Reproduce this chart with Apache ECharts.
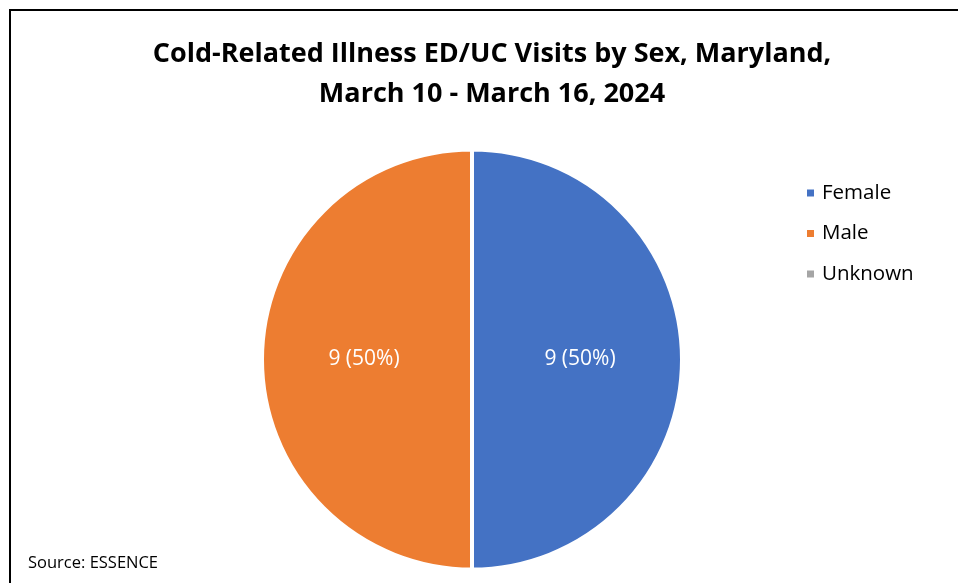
<!DOCTYPE html>
<html>
<head>
<meta charset="utf-8">
<script src="https://cdn.jsdelivr.net/npm/echarts@6/dist/echarts.min.js"></script>
<style>
html,body{margin:0;padding:0;background:#fff;}
#chart{width:958px;height:583px;}
</style>
</head>
<body>
<div id="chart"></div>
<script>
const categories = ["Female", "Male", "Unknown"];
const values = [9, 9, 0];
const colors = ["#4472C4", "#ED7D31", "#A5A5A5"];
const titleText = "Cold-Related Illness ED/UC Visits by Sex, Maryland,\nMarch 10 - March 16, 2024";
const sourceText = "Source: ESSENCE";

const total = values.reduce((a, b) => a + b, 0);
const chart = echarts.init(document.getElementById('chart'), null, {renderer: 'canvas'});
const FONT = '"Open Sans", sans-serif';

chart.setOption({
  animation: false,
  backgroundColor: '#fff',
  color: colors,
  title: {
    text: titleText,
    left: 487,
    top: 29,
    textAlign: 'center',
    textStyle: {
      fontFamily: FONT,
      fontWeight: 'bold',
      fontSize: 27,
      lineHeight: 40,
      color: '#000'
    }
  },
  legend: {
    orient: 'vertical',
    left: 800,
    top: 177.5,
    itemWidth: 9,
    itemHeight: 9,
    itemGap: 19.5,
    icon: 'rect',
    data: categories,
    textStyle: {fontFamily: FONT, fontSize: 20.5, color: '#000', padding: [0, 0, 0, 2]}
  },
  graphic: [
    {type: 'rect', shape: {x: 10, y: 10, width: 1000, height: 1000}, style: {fill: 'none', stroke: '#000', lineWidth: 2}, silent: true},
    {type: 'text', left: 28, top: 555, style: {text: sourceText, fontFamily: FONT, fontSize: 16.5, fill: '#000'}}
  ],
  series: [{
    type: 'pie',
    center: [472, 359.5],
    radius: [0, 210],
    startAngle: 90,
    clockwise: true,
    avoidLabelOverlap: false,
    itemStyle: {borderColor: '#fff', borderWidth: 4},
    label: {
      show: true,
      position: 'inside',
      color: '#fff',
      fontFamily: FONT,
      fontSize: 21,
      padding: [4, 0, 0, 0],
      formatter: p => p.value === 0 ? '' : p.value + ' (' + Math.round(p.value / total * 100) + '%)'
    },
    labelLine: {show: false},
    emphasis: {disabled: true},
    data: categories.map((c, i) => ({name: c, value: values[i]}))
  }]
});
</script>
</body>
</html>
